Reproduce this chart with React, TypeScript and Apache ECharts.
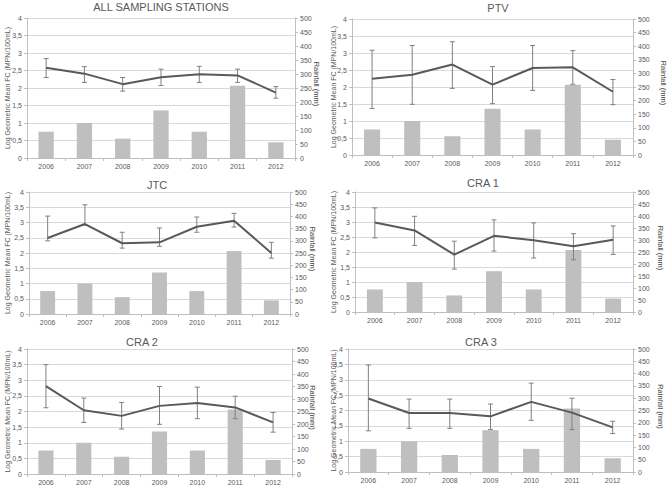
import React, { useEffect, useRef } from 'react';
import * as echarts from 'echarts';

const years = ['2006', '2007', '2008', '2009', '2010', '2011', '2012'];
const rainfall = [94, 125, 69, 170, 94, 258, 56];

const allMean = [2.58, 2.41, 2.11, 2.31, 2.39, 2.36, 1.87];
const allLo = [2.3, 2.16, 1.91, 2.07, 2.16, 2.16, 1.71];
const allHi = [2.84, 2.61, 2.3, 2.54, 2.62, 2.54, 2.04];

const ptvMean = [2.24, 2.36, 2.66, 2.07, 2.56, 2.58, 1.86];
const ptvLo = [1.37, 1.49, 1.96, 1.51, 1.9, 2.08, 1.48];
const ptvHi = [3.08, 3.22, 3.33, 2.6, 3.22, 3.07, 2.22];

const jtcMean = [2.49, 2.95, 2.32, 2.35, 2.86, 3.06, 2.0];
const jtcLo = [2.4, 2.91, 2.16, 2.22, 2.68, 2.85, 1.83];
const jtcHi = [3.21, 3.58, 2.68, 2.82, 3.18, 3.3, 2.35];

const cra1Mean = [2.98, 2.72, 1.91, 2.54, 2.39, 2.19, 2.41];
const cra1Lo = [2.47, 2.22, 1.43, 2.03, 1.8, 1.74, 1.92];
const cra1Hi = [3.47, 3.19, 2.36, 3.07, 2.97, 2.61, 2.87];

const cra2Mean = [2.81, 2.04, 1.86, 2.18, 2.27, 2.13, 1.65];
const cra2Lo = [2.12, 1.65, 1.44, 1.59, 1.77, 1.77, 1.34];
const cra2Hi = [3.5, 2.43, 2.29, 2.8, 2.78, 2.49, 1.97];

const cra3Mean = [2.39, 1.92, 1.92, 1.81, 2.28, 1.93, 1.45];
const cra3Lo = [1.34, 1.42, 1.42, 1.38, 1.68, 1.38, 1.25];
const cra3Hi = [3.48, 2.37, 2.37, 2.21, 2.89, 2.4, 1.65];

const titles = ['ALL SAMPLING STATIONS', 'PTV', 'JTC', 'CRA 1', 'CRA 2', 'CRA 3'];
const leftAxisName = 'Log Geometric Mean FC (MPN/100mL)';
const rightAxisName = 'Rainfall (mm)';

const stations = [
  { mean: allMean, lo: allLo, hi: allHi },
  { mean: ptvMean, lo: ptvLo, hi: ptvHi },
  { mean: jtcMean, lo: jtcLo, hi: jtcHi },
  { mean: cra1Mean, lo: cra1Lo, hi: cra1Hi },
  { mean: cra2Mean, lo: cra2Lo, hi: cra2Hi },
  { mean: cra3Mean, lo: cra3Lo, hi: cra3Hi },
];

const layout = [
  { left: 27, top: 18, width: 268, height: 140, tx: 161, ty: 7, lnx: 7, rnx: 316 },
  { left: 352, top: 19, width: 281, height: 136, tx: 498, ty: 8, lnx: 333, rnx: 663 },
  { left: 29, top: 192, width: 261, height: 122, tx: 157, ty: 185, lnx: 7, rnx: 312 },
  { left: 355, top: 192, width: 278, height: 120, tx: 483, ty: 183, lnx: 333, rnx: 660 },
  { left: 27, top: 349, width: 265, height: 125, tx: 142, ty: 342, lnx: 7, rnx: 312 },
  { left: 348, top: 349, width: 285, height: 123, tx: 481, ty: 342, lnx: 333, rnx: 660 },
];

const FONT = '"Liberation Sans", Arial, sans-serif';
const AXIS_COLOR = '#bfbfbf';
const LABEL_COLOR = '#595959';

export default function App() {
  const ref = useRef<HTMLDivElement>(null);

  useEffect(() => {
    if (!ref.current) return;
    const chart = echarts.init(ref.current, undefined, { renderer: 'svg' });

    const grid = layout.map((l) => ({ left: l.left, top: l.top, width: l.width, height: l.height }));

    const xAxis = layout.map((_, i) => ({
      type: 'category',
      gridIndex: i,
      data: years,
      boundaryGap: true,
      axisLine: { show: true, lineStyle: { color: AXIS_COLOR } },
      axisTick: { show: true, length: 3, lineStyle: { color: AXIS_COLOR } },
      axisLabel: { fontSize: 7, color: LABEL_COLOR, margin: 5, fontFamily: FONT },
      splitLine: { show: false },
    }));

    const yAxis: any[] = [];
    layout.forEach((_, i) => {
      yAxis.push({
        type: 'value',
        gridIndex: i,
        position: 'left',
        min: 0,
        max: 4,
        interval: 0.5,
        axisLine: { show: true, lineStyle: { color: AXIS_COLOR } },
        axisTick: { show: true, length: 3, lineStyle: { color: AXIS_COLOR } },
        splitLine: { show: true, lineStyle: { color: '#d9d9d9', width: 1 } },
        axisLabel: {
          fontSize: 7,
          color: LABEL_COLOR,
          margin: 5,
          fontFamily: FONT,
          formatter: (v: number) => String(v).replace('.', ','),
        },
      });
      yAxis.push({
        type: 'value',
        gridIndex: i,
        position: 'right',
        min: 0,
        max: 500,
        interval: 50,
        axisLine: { show: true, lineStyle: { color: AXIS_COLOR } },
        axisTick: { show: true, length: 3, lineStyle: { color: AXIS_COLOR } },
        splitLine: { show: false },
        axisLabel: { fontSize: 7, color: LABEL_COLOR, margin: 5, fontFamily: FONT },
      });
    });

    const series: any[] = [];
    stations.forEach((s, i) => {
      series.push({
        type: 'bar',
        xAxisIndex: i,
        yAxisIndex: 2 * i + 1,
        data: rainfall,
        barWidth: '40%',
        itemStyle: { color: '#bfbfbf' },
        z: 1,
      });
      series.push({
        type: 'custom',
        xAxisIndex: i,
        yAxisIndex: 2 * i,
        data: years.map((_, j) => [j, s.lo[j], s.hi[j]]),
        encode: { x: 0, y: [1, 2] },
        z: 3,
        renderItem: (params: any, api: any) => {
          const x = api.value(0);
          const lowP = api.coord([x, api.value(1)]);
          const highP = api.coord([x, api.value(2)]);
          const w = 2.5;
          const style = { stroke: '#808080', lineWidth: 1 };
          return {
            type: 'group',
            children: [
              { type: 'line', shape: { x1: highP[0], y1: highP[1], x2: lowP[0], y2: lowP[1] }, style },
              { type: 'line', shape: { x1: highP[0] - w, y1: highP[1], x2: highP[0] + w, y2: highP[1] }, style },
              { type: 'line', shape: { x1: lowP[0] - w, y1: lowP[1], x2: lowP[0] + w, y2: lowP[1] }, style },
            ],
          };
        },
      });
      series.push({
        type: 'line',
        xAxisIndex: i,
        yAxisIndex: 2 * i,
        data: s.mean,
        symbol: 'none',
        lineStyle: { color: '#595959', width: 2 },
        z: 4,
      });
    });

    const graphic: any[] = [];
    layout.forEach((l, i) => {
      graphic.push({
        type: 'text',
        x: l.tx,
        y: l.ty,
        style: {
          text: titles[i],
          fontSize: 11,
          fontWeight: 'normal',
          fontFamily: FONT,
          fill: '#595959',
          align: 'center',
          verticalAlign: 'middle',
        },
      });
      graphic.push({
        type: 'text',
        x: l.lnx,
        y: l.top + l.height / 2,
        rotation: Math.PI / 2,
        style: {
          text: leftAxisName,
          fontSize: 7,
          fontWeight: 'normal',
          fontFamily: FONT,
          fill: LABEL_COLOR,
          align: 'center',
          verticalAlign: 'middle',
        },
      });
      graphic.push({
        type: 'text',
        x: l.rnx,
        y: l.top + l.height / 2 - 4,
        rotation: -Math.PI / 2,
        style: {
          text: rightAxisName,
          fontSize: 7.5,
          fontWeight: 'normal',
          fontFamily: FONT,
          fill: '#404040',
          align: 'center',
          verticalAlign: 'middle',
        },
      });
    });

    chart.setOption({
      animation: false,
      backgroundColor: '#ffffff',
      grid,
      xAxis,
      yAxis,
      series,
      graphic,
    });

    return () => {
      chart.dispose();
    };
  }, []);

  return (
    <div
      ref={ref}
      style={{ position: 'absolute', left: 0, top: 0, width: 669, height: 488 }}
    />
  );
}
